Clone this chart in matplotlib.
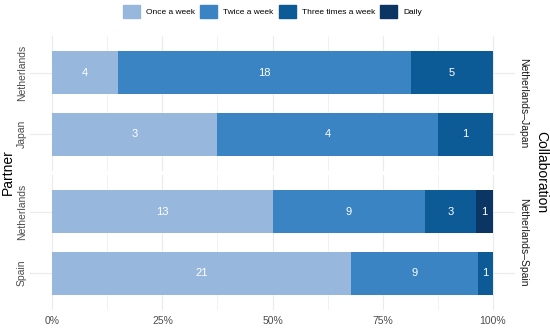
import matplotlib
matplotlib.use("Agg")
import matplotlib.pyplot as plt
import numpy as np

plt.rcParams["font.family"] = ["Liberation Sans", "DejaVu Sans"]

# Data
categories = ["Once a week", "Twice a week", "Three times a week", "Daily"]
colors = ["#97b8dc", "#3a84c4", "#0c5b96", "#0b3562"]

collaborations = ["Netherlands\u2013Japan", "Netherlands\u2013Spain"]
partners = [["Netherlands", "Japan"], ["Netherlands", "Spain"]]
counts = [
    [[4, 18, 5, 0], [3, 4, 1, 0]],
    [[13, 9, 3, 1], [21, 9, 1, 0]],
]

W, H = 550, 328
fig = plt.figure(figsize=(W / 100, H / 100), dpi=100)

grid_col = "#ebebeb"
tick_col = "#4d4d4d"

left = 30.3 / W
width = (514.7 - 30.3) / W
panel_px = [(36, 171), (175, 310)]

for k, (top, bot) in enumerate(panel_px):
    ax = fig.add_axes([left, 1 - bot / H, width, (bot - top) / H])
    ax.set_xlim(-0.05, 1.05)
    ax.set_ylim(2.6, 0.4)
    for s in ax.spines.values():
        s.set_visible(False)
    for x in np.arange(0, 1.01, 0.125):
        ax.axvline(x, color=grid_col, lw=0.8 if x * 4 % 1 == 0 else 0.5, zorder=0)
    for y in [1, 2]:
        ax.axhline(y, color=grid_col, lw=0.8, zorder=0)

    for i, row in enumerate(counts[k]):
        total = sum(row)
        start = 0.0
        for j, v in enumerate(row):
            if v == 0:
                continue
            w = v / total
            ax.barh(i + 1, w, left=start, height=0.7, color=colors[j], zorder=2)
            ax.text(start + w / 2, i + 1, str(v), color="white", fontsize=8,
                    ha="center", va="center", zorder=3)
            start += w

    ax.set_yticks([1, 2])
    ax.set_yticklabels(partners[k], rotation=90, va="center", fontsize=7.5, color=tick_col)
    ax.tick_params(axis="y", length=0, pad=2.5)
    ax.tick_params(axis="x", length=0, pad=4)
    ax.set_xticks([0, 0.25, 0.5, 0.75, 1.0])
    if k == 1:
        ax.set_xticklabels(["0%", "25%", "50%", "75%", "100%"], fontsize=7.5, color=tick_col)
    else:
        ax.set_xticklabels([])

    fig.text(523 / W, 1 - (top + bot) / 2 / H, collaborations[k], rotation=-90,
             ha="center", va="center", fontsize=7.5, color="#1a1a1a")

fig.text(8 / W, 1 - 172 / H, "Partner", rotation=90, ha="center", va="center", fontsize=10)
fig.text(541 / W, 1 - 172 / H, "Collaboration", rotation=-90, ha="center", va="center", fontsize=10)

# Legend
handles = [plt.Rectangle((0, 0), 1, 1, color=c) for c in colors]
fig.legend(handles, categories, loc="center", bbox_to_anchor=(0.4955, 0.966), ncol=4,
           frameon=False, fontsize=6, handlelength=2.05, handleheight=2.05,
           columnspacing=0.6, handletextpad=0.72, borderpad=0, borderaxespad=0)

fig.savefig("out.png", dpi=100)
